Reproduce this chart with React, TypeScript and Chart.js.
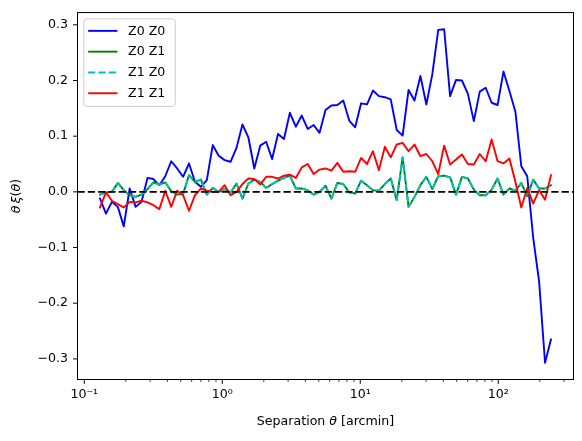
import { useEffect, useRef } from 'react';
import { Chart, registerables } from 'chart.js';

Chart.register(...registerables);

const theta = [
  0.13, 0.1436, 0.1585, 0.175, 0.1932, 0.2133, 0.2355, 0.26, 0.2871, 0.317, 0.3499,
  0.3864, 0.4266, 0.471, 0.52, 0.5741, 0.6339, 0.6998, 0.7727, 0.8531, 0.9419,
  1.04, 1.148, 1.268, 1.4, 1.545, 1.706, 1.884, 2.08, 2.296, 2.535, 2.799, 3.09,
  3.412, 3.767, 4.159, 4.592, 5.07, 5.598, 6.18, 6.823, 7.534, 8.318, 9.183,
  10.14, 11.19, 12.36, 13.65, 15.07, 16.63, 18.37, 20.28, 22.39, 24.72, 27.29,
  30.13, 33.27, 36.73, 40.55, 44.77, 49.43, 54.58, 60.26, 66.53, 73.45, 81.1,
  89.54, 98.86, 109.1, 120.5, 133.1, 146.9, 162.2, 179.1, 197.7, 218.3, 241.0,
];

const z0z0 = [
  -0.012, -0.039, -0.018, -0.027, -0.062, 0.006, -0.027, -0.018, 0.025, 0.023,
  0.012, 0.028, 0.055, 0.042, 0.027, 0.051, 0.018, 0.009, 0.021, 0.084,
  0.065, 0.057, 0.054, 0.079, 0.121, 0.098, 0.042, 0.083, 0.09, 0.059,
  0.104, 0.095, 0.142, 0.117, 0.137, 0.113, 0.12, 0.106, 0.147, 0.155,
  0.156, 0.164, 0.128, 0.116, 0.159, 0.157, 0.182, 0.172, 0.17, 0.166,
  0.111, 0.101, 0.183, 0.164, 0.208, 0.157, 0.211, 0.291, 0.292, 0.172,
  0.201, 0.2, 0.176, 0.127, 0.18, 0.187, 0.16, 0.156, 0.216, 0.181,
  0.144, 0.046, 0.028, -0.082, -0.161, -0.307, -0.265,
];

const z0z1 = [
  -0.005, -0.001, 0.0, 0.016, 0.003, -0.006, -0.009, -0.005, 0.005, 0.017,
  0.013, 0.017, 0.001, -0.005, -0.004, 0.03, 0.018, 0.022, -0.005, 0.007,
  0.0, 0.005, -0.001, 0.015, -0.012, 0.015, 0.022, 0.018, 0.007, 0.014,
  0.02, 0.025, 0.029, 0.006, 0.006, 0.003, -0.005, 0.0, 0.011, -0.012,
  0.016, 0.014, -0.001, -0.003, 0.02, 0.012, 0.003, 0.002, 0.014, 0.024,
  -0.015, 0.062, -0.027, -0.009, 0.012, 0.027, 0.005, 0.028, 0.029, 0.026,
  -0.005, 0.027, 0.024, 0.004, -0.006, -0.006, 0.004, 0.024, -0.005, 0.006,
  0.002, 0.016, -0.008, 0.022, 0.006, 0.006, 0.012,
];

const z1z0 = [
  -0.005, -0.001, 0.0, 0.016, 0.003, -0.006, -0.009, -0.005, 0.005, 0.017,
  0.013, 0.017, 0.001, -0.005, -0.004, 0.03, 0.018, 0.022, -0.005, 0.007,
  0.0, 0.005, -0.001, 0.015, -0.012, 0.015, 0.022, 0.018, 0.007, 0.014,
  0.02, 0.025, 0.029, 0.006, 0.006, 0.003, -0.005, 0.0, 0.011, -0.012,
  0.016, 0.014, -0.001, -0.003, 0.02, 0.012, 0.003, 0.002, 0.014, 0.024,
  -0.015, 0.062, -0.027, -0.009, 0.012, 0.027, 0.005, 0.028, 0.029, 0.026,
  -0.005, 0.027, 0.024, 0.004, -0.006, -0.006, 0.004, 0.024, -0.005, 0.006,
  0.002, 0.016, -0.008, 0.022, 0.006, 0.006, 0.012,
];

const z1z1 = [
  -0.028, -0.001, -0.016, -0.022, -0.028, -0.018, -0.019, -0.016, -0.019, -0.024,
  -0.031, 0.002, -0.027, 0.002, -0.006, -0.034, -0.006, 0.006, 0.002, 0.0,
  0.0, 0.012, -0.006, 0.0, 0.014, 0.024, 0.023, 0.013, 0.027, 0.027,
  0.024, 0.029, 0.031, 0.025, 0.044, 0.05, 0.032, 0.04, 0.042, 0.038,
  0.052, 0.036, 0.037, 0.036, 0.061, 0.05, 0.073, 0.039, 0.081, 0.062,
  0.085, 0.088, 0.073, 0.085, 0.064, 0.068, 0.055, 0.032, 0.083, 0.049,
  0.058, 0.067, 0.05, 0.049, 0.068, 0.055, 0.094, 0.055, 0.051, 0.06,
  0.018, -0.028, 0.007, -0.021, 0.003, -0.014, 0.03,
];

const seriesLabels = ['Z0 Z0', 'Z0 Z1', 'Z1 Z0', 'Z1 Z1'];
const seriesColors = ['#0000ff', '#008000', '#00bfbf', '#ff0000'];
const seriesDashed = [false, false, true, false];

const yTicks = [-0.3, -0.2, -0.1, 0.0, 0.1, 0.2, 0.3];
const xMajorTicks = [0.1, 1, 10, 100];
const xMajorLabels = ['10⁻¹', '10⁰', '10¹', '10²'];
const xMinorTicks = [
  0.2, 0.3, 0.4, 0.5, 0.6, 0.7, 0.8, 0.9, 2, 3, 4, 5, 6, 7, 8, 9,
  20, 30, 40, 50, 60, 70, 80, 90, 200, 300,
];

const FAMILY = '"DejaVu Sans", sans-serif';
const FS = 12.6;
const DASH = [7.2, 3.1];
const LW = 1.9;

function drawParts(ctx: CanvasRenderingContext2D, parts: { t: string; it?: boolean; gap?: number }[], cx: number, y: number) {
  const widths = parts.map((p) => {
    if (p.gap) return p.gap;
    ctx.font = `${p.it ? 'italic ' : ''}${FS}px ${FAMILY}`;
    return ctx.measureText(p.t).width;
  });
  const total = widths.reduce((a, b) => a + b, 0);
  let x = cx - total / 2;
  parts.forEach((p, i) => {
    if (!p.gap) {
      ctx.font = `${p.it ? 'italic ' : ''}${FS}px ${FAMILY}`;
      ctx.fillText(p.t, x, y);
    }
    x += widths[i];
  });
}

const decorPlugin = {
  id: 'decor',
  afterDatasetsDraw(chart: any) {
    const { ctx, chartArea: a, scales } = chart;
    const y0 = scales.y.getPixelForValue(0);
    ctx.save();
    ctx.strokeStyle = '#000000';
    ctx.lineWidth = LW;
    ctx.lineCap = 'butt';
    ctx.setLineDash(DASH);
    ctx.beginPath();
    ctx.moveTo(a.left, y0);
    ctx.lineTo(a.right, y0);
    ctx.stroke();
    ctx.restore();
  },
  afterDraw(chart: any) {
    const { ctx, chartArea: a, scales } = chart;
    ctx.save();
    ctx.setLineDash([]);
    ctx.strokeStyle = '#000000';
    ctx.lineWidth = 1;
    ctx.strokeRect(a.left, a.top, a.right - a.left, a.bottom - a.top);

    ctx.beginPath();
    yTicks.forEach((v) => {
      const p = scales.y.getPixelForValue(v);
      ctx.moveTo(a.left - 4.4, p);
      ctx.lineTo(a.left, p);
    });
    xMajorTicks.forEach((v) => {
      const p = scales.x.getPixelForValue(v);
      ctx.moveTo(p, a.bottom);
      ctx.lineTo(p, a.bottom + 4.4);
    });
    ctx.stroke();
    ctx.lineWidth = 0.76;
    ctx.beginPath();
    xMinorTicks.forEach((v) => {
      const p = scales.x.getPixelForValue(v);
      ctx.moveTo(p, a.bottom);
      ctx.lineTo(p, a.bottom + 2.5);
    });
    ctx.stroke();

    // axis titles
    ctx.fillStyle = '#000000';
    ctx.textBaseline = 'alphabetic';
    ctx.textAlign = 'left';
    drawParts(
      ctx,
      [{ t: 'Separation ' }, { t: 'θ', it: true }, { t: ' [arcmin]' }],
      (a.left + a.right) / 2,
      425
    );
    ctx.save();
    ctx.translate(20, (a.top + a.bottom) / 2);
    ctx.rotate(-Math.PI / 2);
    drawParts(
      ctx,
      [{ t: 'θ', it: true }, { t: '', gap: 2.1 }, { t: 'ξ', it: true }, { t: '(' }, { t: 'θ', it: true }, { t: ')' }],
      0,
      0
    );
    ctx.restore();

    // legend
    const bx = a.left + 6.3;
    const by = a.top + 6.3;
    const bw = 91.5;
    const bh = 87.5;
    ctx.beginPath();
    (ctx as any).roundRect(bx, by, bw, bh, 3);
    ctx.fillStyle = 'rgba(255,255,255,0.8)';
    ctx.fill();
    ctx.strokeStyle = '#cccccc';
    ctx.lineWidth = 1;
    ctx.stroke();
    seriesLabels.forEach((lab, i) => {
      const cy = by + 12 + i * 20.8;
      ctx.strokeStyle = seriesColors[i];
      ctx.lineWidth = LW;
      ctx.beginPath();
      if (seriesDashed[i]) {
        ctx.setLineDash(DASH);
        ctx.lineCap = 'butt';
        ctx.moveTo(bx + 4.3, cy);
        ctx.lineTo(bx + 33.7, cy);
      } else {
        ctx.setLineDash([]);
        ctx.lineCap = 'square';
        ctx.moveTo(bx + 5.3, cy);
        ctx.lineTo(bx + 32.7, cy);
      }
      ctx.stroke();
      ctx.setLineDash([]);
      ctx.fillStyle = '#000000';
      ctx.font = `${FS}px ${FAMILY}`;
      ctx.textBaseline = 'middle';
      ctx.textAlign = 'left';
      ctx.fillText(lab, bx + 44.3, cy + 0.5);
    });
    ctx.restore();
  },
};

export default function App() {
  const ref = useRef<HTMLCanvasElement | null>(null);

  useEffect(() => {
    if (!ref.current) return;
    const series = [z0z0, z0z1, z1z0, z1z1];
    const datasets = series.map((arr, i) => ({
      label: seriesLabels[i],
      data: theta.map((t, j) => ({ x: t, y: arr[j] })),
      borderColor: seriesColors[i],
      backgroundColor: seriesColors[i],
      borderWidth: LW,
      borderDash: seriesDashed[i] ? DASH : [],
      borderCapStyle: (seriesDashed[i] ? 'butt' : 'square') as any,
      borderJoinStyle: 'round' as any,
      pointRadius: 0,
      pointHoverRadius: 0,
      tension: 0,
      fill: false,
      order: 3 - i,
    }));

    const chart = new Chart(ref.current, {
      type: 'line',
      data: { datasets },
      options: {
        animation: false,
        responsive: false,
        events: [],
        layout: { padding: { left: 0, right: 8.5, top: 10.5, bottom: 0 } },
        plugins: {
          legend: { display: false },
          tooltip: { enabled: false },
          title: { display: false },
        },
        scales: {
          x: {
            type: 'logarithmic',
            min: 0.0893,
            max: 351,
            border: { display: false },
            grid: { display: false, drawTicks: true, tickLength: 4.4 },
            afterBuildTicks: (scale: any) => {
              scale.ticks = xMajorTicks.map((v) => ({ value: v, major: true }));
            },
            afterFit: (scale: any) => {
              scale.height = 61.5;
            },
            ticks: {
              autoSkip: false,
              maxRotation: 0,
              minRotation: 0,
              padding: 3,
              color: '#000000',
              font: { family: FAMILY, size: FS },
              callback: (v: any) => {
                const k = xMajorTicks.indexOf(Number(v));
                return k >= 0 ? xMajorLabels[k] : '';
              },
            },
          },
          y: {
            type: 'linear',
            min: -0.337,
            max: 0.322,
            border: { display: false },
            grid: { display: false, drawTicks: true, tickLength: 4.4 },
            afterBuildTicks: (scale: any) => {
              scale.ticks = yTicks.map((v) => ({ value: v }));
            },
            afterFit: (scale: any) => {
              scale.width = 77.5;
            },
            ticks: {
              autoSkip: false,
              padding: 5,
              color: '#000000',
              font: { family: FAMILY, size: FS },
              callback: (v: any) => {
                const n = Number(v);
                const s = Math.abs(n).toFixed(1);
                return n < -1e-9 ? '\u2212' + s : s;
              },
            },
          },
        },
      },
      plugins: [decorPlugin],
    });
    return () => chart.destroy();
  }, []);

  return (
    <div style={{ position: 'fixed', left: 0, top: 0, width: 582, height: 441, background: '#ffffff' }}>
      <canvas ref={ref} width={582} height={441} style={{ width: 582, height: 441, display: 'block' }} />
    </div>
  );
}
